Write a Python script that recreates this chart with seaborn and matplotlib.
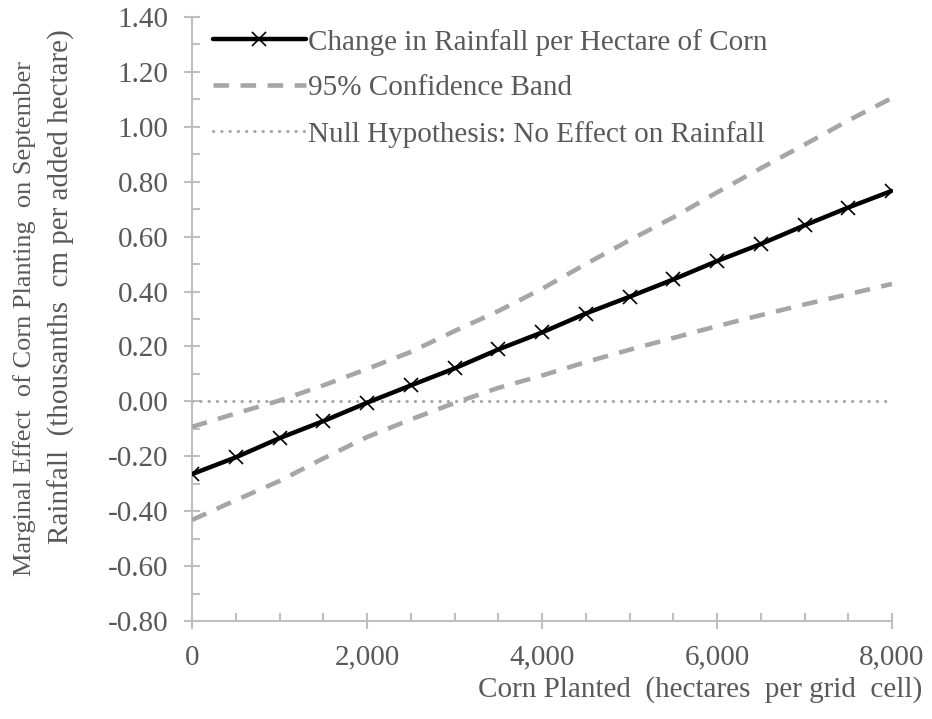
import numpy as np
import pandas as pd
import seaborn as sns
import matplotlib
matplotlib.use("Agg")
import matplotlib.pyplot as plt
from matplotlib.ticker import MultipleLocator, FuncFormatter

# Corn planted (hectares per grid cell)
corn = [0, 500, 1000, 1500, 2000, 2500, 3000, 3500, 4000,
        4500, 5000, 5500, 6000, 6500, 7000, 7500, 8000]
# Marginal effect estimate
effect = [-0.265, -0.204, -0.134, -0.072, -0.005, 0.058, 0.120, 0.189, 0.251,
          0.320, 0.381, 0.444, 0.511, 0.573, 0.641, 0.706, 0.767]
# 95% confidence band
upper = [-0.093, -0.044, 0.003, 0.058, 0.118, 0.180, 0.256, 0.329, 0.410,
         0.500, 0.587, 0.670, 0.761, 0.849, 0.935, 1.023, 1.105]
lower = [-0.432, -0.360, -0.290, -0.208, -0.130, -0.066, -0.006, 0.049, 0.094,
         0.143, 0.188, 0.231, 0.274, 0.314, 0.353, 0.390, 0.428]
# Null hypothesis: no effect
null = [0.0] * len(corn)

sns.set_style("ticks")
plt.rcParams["font.family"] = ["Liberation Serif", "DejaVu Serif"]

text_color = "#595959"
axis_color = "#bfbfbf"
band_color = "#a6a6a6"

df = pd.DataFrame({"corn": corn, "effect": effect, "upper": upper,
                   "lower": lower, "null": null})

fig = plt.figure(figsize=(9.32, 7.19), dpi=100)
ax = fig.add_axes([192 / 932, 1 - 621 / 719, 700 / 932, 604 / 719])

sns.lineplot(data=df, x="corn", y="effect", ax=ax, color="black", linewidth=3.2,
             marker="x", markersize=10, markeredgewidth=1.2,
             markeredgecolor="black", label="Change in Rainfall per Hectare of Corn",
             zorder=4)
sns.lineplot(data=df, x="corn", y="upper", ax=ax, color=band_color, linewidth=3.3,
             label="95% Confidence Band", zorder=3)
sns.lineplot(data=df, x="corn", y="lower", ax=ax, color=band_color, linewidth=3.3,
             zorder=3)
sns.lineplot(data=df, x="corn", y="null", ax=ax, color=band_color, linewidth=2.2,
             label="Null Hypothesis: No Effect on Rainfall", zorder=2)

lines = ax.get_lines()
for ln in lines[1:3]:
    ln.set_dashes([3.4, 2.5])
lines[3].set_dashes([0.1, 2.6])
lines[3].set_dash_capstyle("round")

ax.set_xlim(0, 8000)
ax.set_ylim(-0.8, 1.4)
ax.xaxis.set_major_locator(MultipleLocator(2000))
ax.xaxis.set_minor_locator(MultipleLocator(500))
ax.yaxis.set_major_locator(MultipleLocator(0.2))
ax.yaxis.set_minor_locator(MultipleLocator(0.1))
ax.xaxis.set_major_formatter(FuncFormatter(lambda v, p: f"{v:,.0f}"))
ax.yaxis.set_major_formatter(FuncFormatter(lambda v, p: f"{v:.2f}"))

for side in ["top", "right"]:
    ax.spines[side].set_visible(False)
for side in ["left", "bottom"]:
    ax.spines[side].set_color(axis_color)
    ax.spines[side].set_linewidth(1.5)

ax.tick_params(which="both", left=True, bottom=True, top=False, right=False)
ax.tick_params(which="major", direction="inout", length=12, width=1.5,
               color=axis_color, labelcolor=text_color, labelsize=21)
ax.tick_params(which="minor", direction="in", length=6, width=1.5,
               color=axis_color)
ax.tick_params(axis="y", which="major", pad=11)
ax.tick_params(axis="x", which="major", pad=11)
ax.set_xlabel("")
ax.set_ylabel("")

leg = ax.legend(loc="upper left", bbox_to_anchor=(0.013, 1.0), frameon=False,
                fontsize=21, handlelength=3.2, handletextpad=0.08,
                labelspacing=0.66, borderaxespad=0.0)
for t in leg.get_texts():
    t.set_color(text_color)

fig.text(922 / 932, 1 - 690 / 719, "Corn Planted  (hectares  per grid  cell)",
         ha="right", va="center", fontsize=21, color=text_color)
fig.text(25 / 932, 1 - 318 / 719,
         "Marginal Effect  of Corn Planting  on September",
         ha="center", va="center", rotation=90, fontsize=19,
         color=text_color)
fig.text(61 / 932, 1 - 287 / 719,
         "Rainfall  (thousanths  cm per added hectare)",
         ha="center", va="center", rotation=90, fontsize=21,
         color=text_color)

fig.savefig("out.png", dpi=100, facecolor="white")
